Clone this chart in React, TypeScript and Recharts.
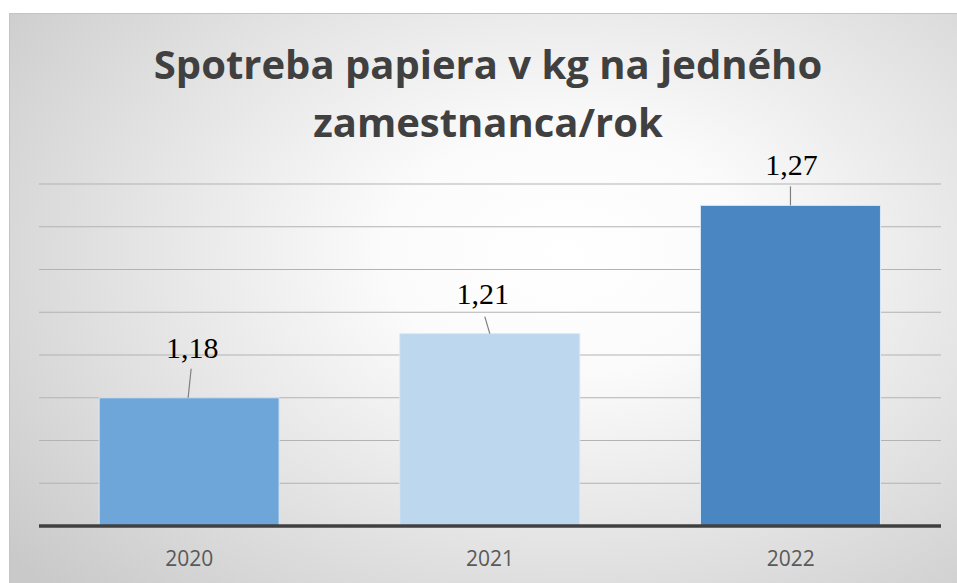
import { Bar, BarChart, CartesianGrid, Cell, LabelList, XAxis, YAxis } from 'recharts';

const YEARS = ['2020', '2021', '2022'];
const PAPER_KG = [1.18, 1.21, 1.27];
const BAR_COLORS = ['#6FA6D9', '#BDD7EE', '#4A86C1'];
const Y_TICKS = [1.12, 1.14, 1.16, 1.18, 1.2, 1.22, 1.24, 1.26, 1.28];
const TITLE_LINES = ['Spotreba papiera v kg na jedného', 'zamestnanca/rok'];

// hand placed labels: text offset, baseline rise above bar, leader line top
const LABEL_NUDGE = [
  { dx: 3, rise: 40, lineTop: 29, lineDx: 2, baseDx: -1 },
  { dx: -7, rise: 30, lineTop: 17, lineDx: -5, baseDx: 0 },
  { dx: 1, rise: 30, lineTop: 19, lineDx: 0, baseDx: 0 },
];

const W = 957;
const H = 569;

function ValueLabel(props: any) {
  const { x, y, width, value, index } = props;
  const n = LABEL_NUDGE[index] ?? LABEL_NUDGE[0];
  const cx = Number(x) + Number(width) / 2;
  const top = Number(y);
  return (
    <g>
      <line
        x1={cx + n.baseDx}
        y1={top}
        x2={cx + n.lineDx}
        y2={top - n.lineTop}
        stroke="#7f7f7f"
        strokeWidth={1.2}
      />
      <text
        x={cx + n.dx}
        y={top - n.rise}
        textAnchor="middle"
        fontFamily="'Liberation Serif', 'Times New Roman', serif"
        fontSize={30}
        fill="#000"
      >
        {String(value).replace('.', ',')}
      </text>
    </g>
  );
}

function YearTick(props: any) {
  const { x, y, payload } = props;
  return (
    <text
      x={x}
      y={Number(y) + 40}
      textAnchor="middle"
      fontFamily="'Open Sans', sans-serif"
      fontSize={21}
      fill="#595959"
    >
      {payload.value}
    </text>
  );
}

export default function App() {
  const data = YEARS.map((year, i) => ({ year, kg: PAPER_KG[i] }));

  return (
    <div
      style={{
        position: 'absolute',
        left: 9,
        top: 13,
        width: W,
        height: H,
        borderTop: '1px solid #c4c4c4',
        borderLeft: '1px solid #c4c4c4',
        background:
          'radial-gradient(ellipse 75% 85% at 58% 42%, #ffffff 0%, #fbfbfb 25%, #e4e4e4 60%, #c9c9c9 100%)',
        overflow: 'hidden',
      }}
    >
      <svg
        width={W}
        height={170}
        style={{ position: 'absolute', left: 0, top: 0 }}
      >
        {TITLE_LINES.map((line, i) => (
          <text
            key={line}
            x={478}
            y={65 + i * 58}
            textAnchor="middle"
            fontFamily="'Open Sans', sans-serif"
            fontWeight={700}
            fontSize={40}
            fill="#404040"
          >
            {line}
          </text>
        ))}
      </svg>
      <BarChart
        width={W}
        height={H}
        data={data}
        margin={{ top: 170, right: 26, left: 29, bottom: 0 }}
        barCategoryGap="20%"
        style={{ position: 'absolute', left: 0, top: 0 }}
      >
        <CartesianGrid horizontal vertical={false} stroke="#b3b3b3" strokeWidth={1} />
        <YAxis hide domain={[1.12, 1.28]} ticks={Y_TICKS} allowDataOverflow />
        <XAxis
          dataKey="year"
          height={57}
          tickSize={0}
          tickMargin={0}
          tickLine={false}
          axisLine={{ stroke: '#404040', strokeWidth: 3.5 }}
          tick={<YearTick />}
        />
        <Bar dataKey="kg" isAnimationActive={false} stroke="#dbe8f5" strokeWidth={1}>
          {data.map((d, i) => (
            <Cell key={d.year} fill={BAR_COLORS[i]} />
          ))}
          <LabelList dataKey="kg" content={<ValueLabel />} />
        </Bar>
      </BarChart>
    </div>
  );
}
